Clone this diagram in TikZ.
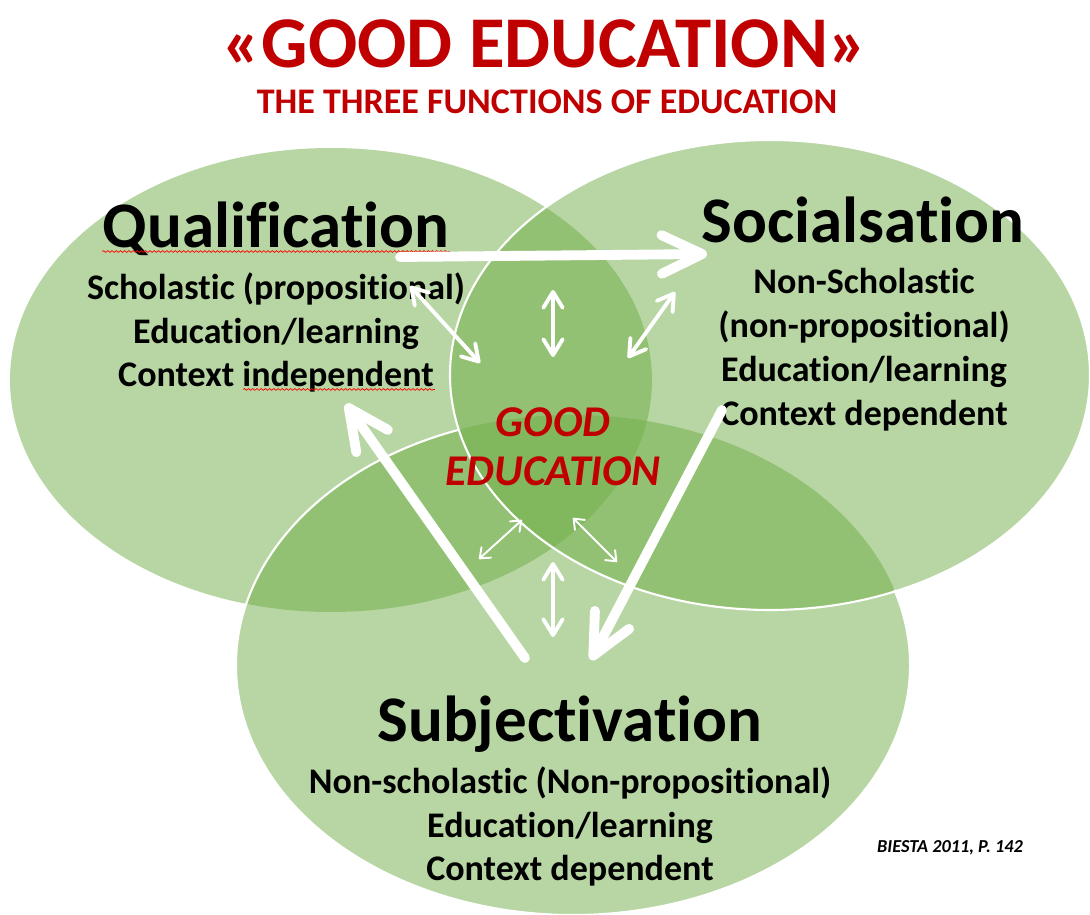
\documentclass[tikz,border=0pt]{standalone}
\usepackage{fontspec}
\setmainfont{Carlito}[Ligatures=NoCommon]
\usepackage{tikz}
\usetikzlibrary{positioning, arrows.meta, decorations.pathmorphing}
\definecolor{venn}{RGB}{112, 173, 71}
\definecolor{title}{RGB}{192, 0, 0}
\tikzstyle{venn} = [fill=venn, fill opacity=0.5]
\tikzstyle{rim} = [white, line width=1.2pt]
\tikzstyle{bigarrow} = [white, line width=5.6pt, line cap=round, -{Straight Barb[length=23pt, width=22pt, round]}]
\tikzstyle{smallarrow} = [white, line width=2.2pt, {Straight Barb[length=9pt, width=11pt, round]}-{Straight Barb[length=9pt, width=11pt, round]}]
\tikzstyle{thinarrow} = [white, line width=1.1pt, {Straight Barb[length=5pt, width=8pt, round]}-{Straight Barb[length=5pt, width=8pt, round]}]
\tikzstyle{heading} = [font=\fontsize{37}{40}\selectfont\bfseries, inner sep=0, anchor=base]
\tikzstyle{body} = [font=\fontsize{20.5}{25}\selectfont\bfseries, align=center, inner sep=0, anchor=north]
\tikzstyle{spell} = [red, line width=0.4pt, decorate, decoration={snake, amplitude=0.5pt, segment length=2.4pt}]

\begin{document}
\begin{tikzpicture}[x=0.02cm, y=-0.02cm]
    \useasboundingbox (0,0) rectangle (1090,915);

    % circles
    \fill[venn] (331,380) ellipse [x radius=321, y radius=232];
    \fill[venn] (770,375) ellipse [x radius=320, y radius=235];
    \fill[venn] (573,665) ellipse [x radius=337, y radius=250];
    \draw[rim] (573,665) ++(-17.5:337 and 250) arc[start angle=-17.5, end angle=250, x radius=337, y radius=250];
    \draw[rim] (770,375) ellipse [x radius=320, y radius=235];

    % titles
    \node[text=title, font=\fontsize{41.5}{44}\selectfont\bfseries] (title) at (545,44) {«GOOD EDUCATION»};
    \node[text=title, font=\fontsize{20.5}{22}\selectfont\bfseries] (subtitle) at (547,102) {THE THREE FUNCTIONS OF EDUCATION};

    % nodes
    \node[heading] (qual) at (276,248) {Qualification};
    \node[body]    (qual-text) at (276,272) {Scholastic (propositional)\\Education/learning\\Context independent};
    \node[heading] (soc) at (863,243) {Socialsation};
    \node[body]    (soc-text) at (864,268) {Non-Scholastic\\(non-propositional)\\Education/learning\\Context dependent};
    \node[heading] (subj) at (570,742) {Subjectivation};
    \node[body]    (subj-text) at (570,766) {Non-scholastic (Non-propositional)\\Education/learning\\Context dependent};
    \node[text=title, font=\fontsize{25}{28}\selectfont\bfseries\itshape, align=center] (good) at (553,447) {GOOD\\EDUCATION};
    \node[font=\fontsize{10.4}{12}\selectfont\bfseries\itshape] (ref) at (950,848) {BIESTA 2011, P. 142};

    % spelling marks
    \draw[spell] ([yshift=-2pt]qual.base west) -- ([yshift=-2pt]qual.base east);
    \draw[spell] ([xshift=-0.66cm, yshift=2pt]qual-text.south) -- ([xshift=3.18cm, yshift=2pt]qual-text.south);

    % arrow ends
    \coordinate (q-out) at (400,257);
    \coordinate (s-in)  at (707,254);
    \coordinate (s-out) at (722,410);
    \coordinate (j-in)  at (591,660);
    \coordinate (j-out) at (525,658);
    \coordinate (q-in)  at (346,404);
    \coordinate (a1) at (410,286); \coordinate (a2) at (480,363);
    \coordinate (b1) at (553,290); \coordinate (b2) at (553,357);
    \coordinate (c1) at (675,292); \coordinate (c2) at (628,358);
    \coordinate (d1) at (522,520); \coordinate (d2) at (479,559);
    \coordinate (e1) at (573,518); \coordinate (e2) at (617,562);
    \coordinate (f1) at (553,562); \coordinate (f2) at (553,637);

    % arrows
    \draw[bigarrow]   (q-out) -- (s-in);
    \draw[bigarrow]   (s-out) -- (j-in);
    \draw[bigarrow]   (j-out) -- (q-in);
    \draw[smallarrow] (a1) -- (a2);
    \draw[smallarrow] (b1) -- (b2);
    \draw[smallarrow] (c1) -- (c2);
    \draw[thinarrow]  (d1) -- (d2);
    \draw[thinarrow]  (e1) -- (e2);
    \draw[smallarrow] (f1) -- (f2);
\end{tikzpicture}
\end{document}
